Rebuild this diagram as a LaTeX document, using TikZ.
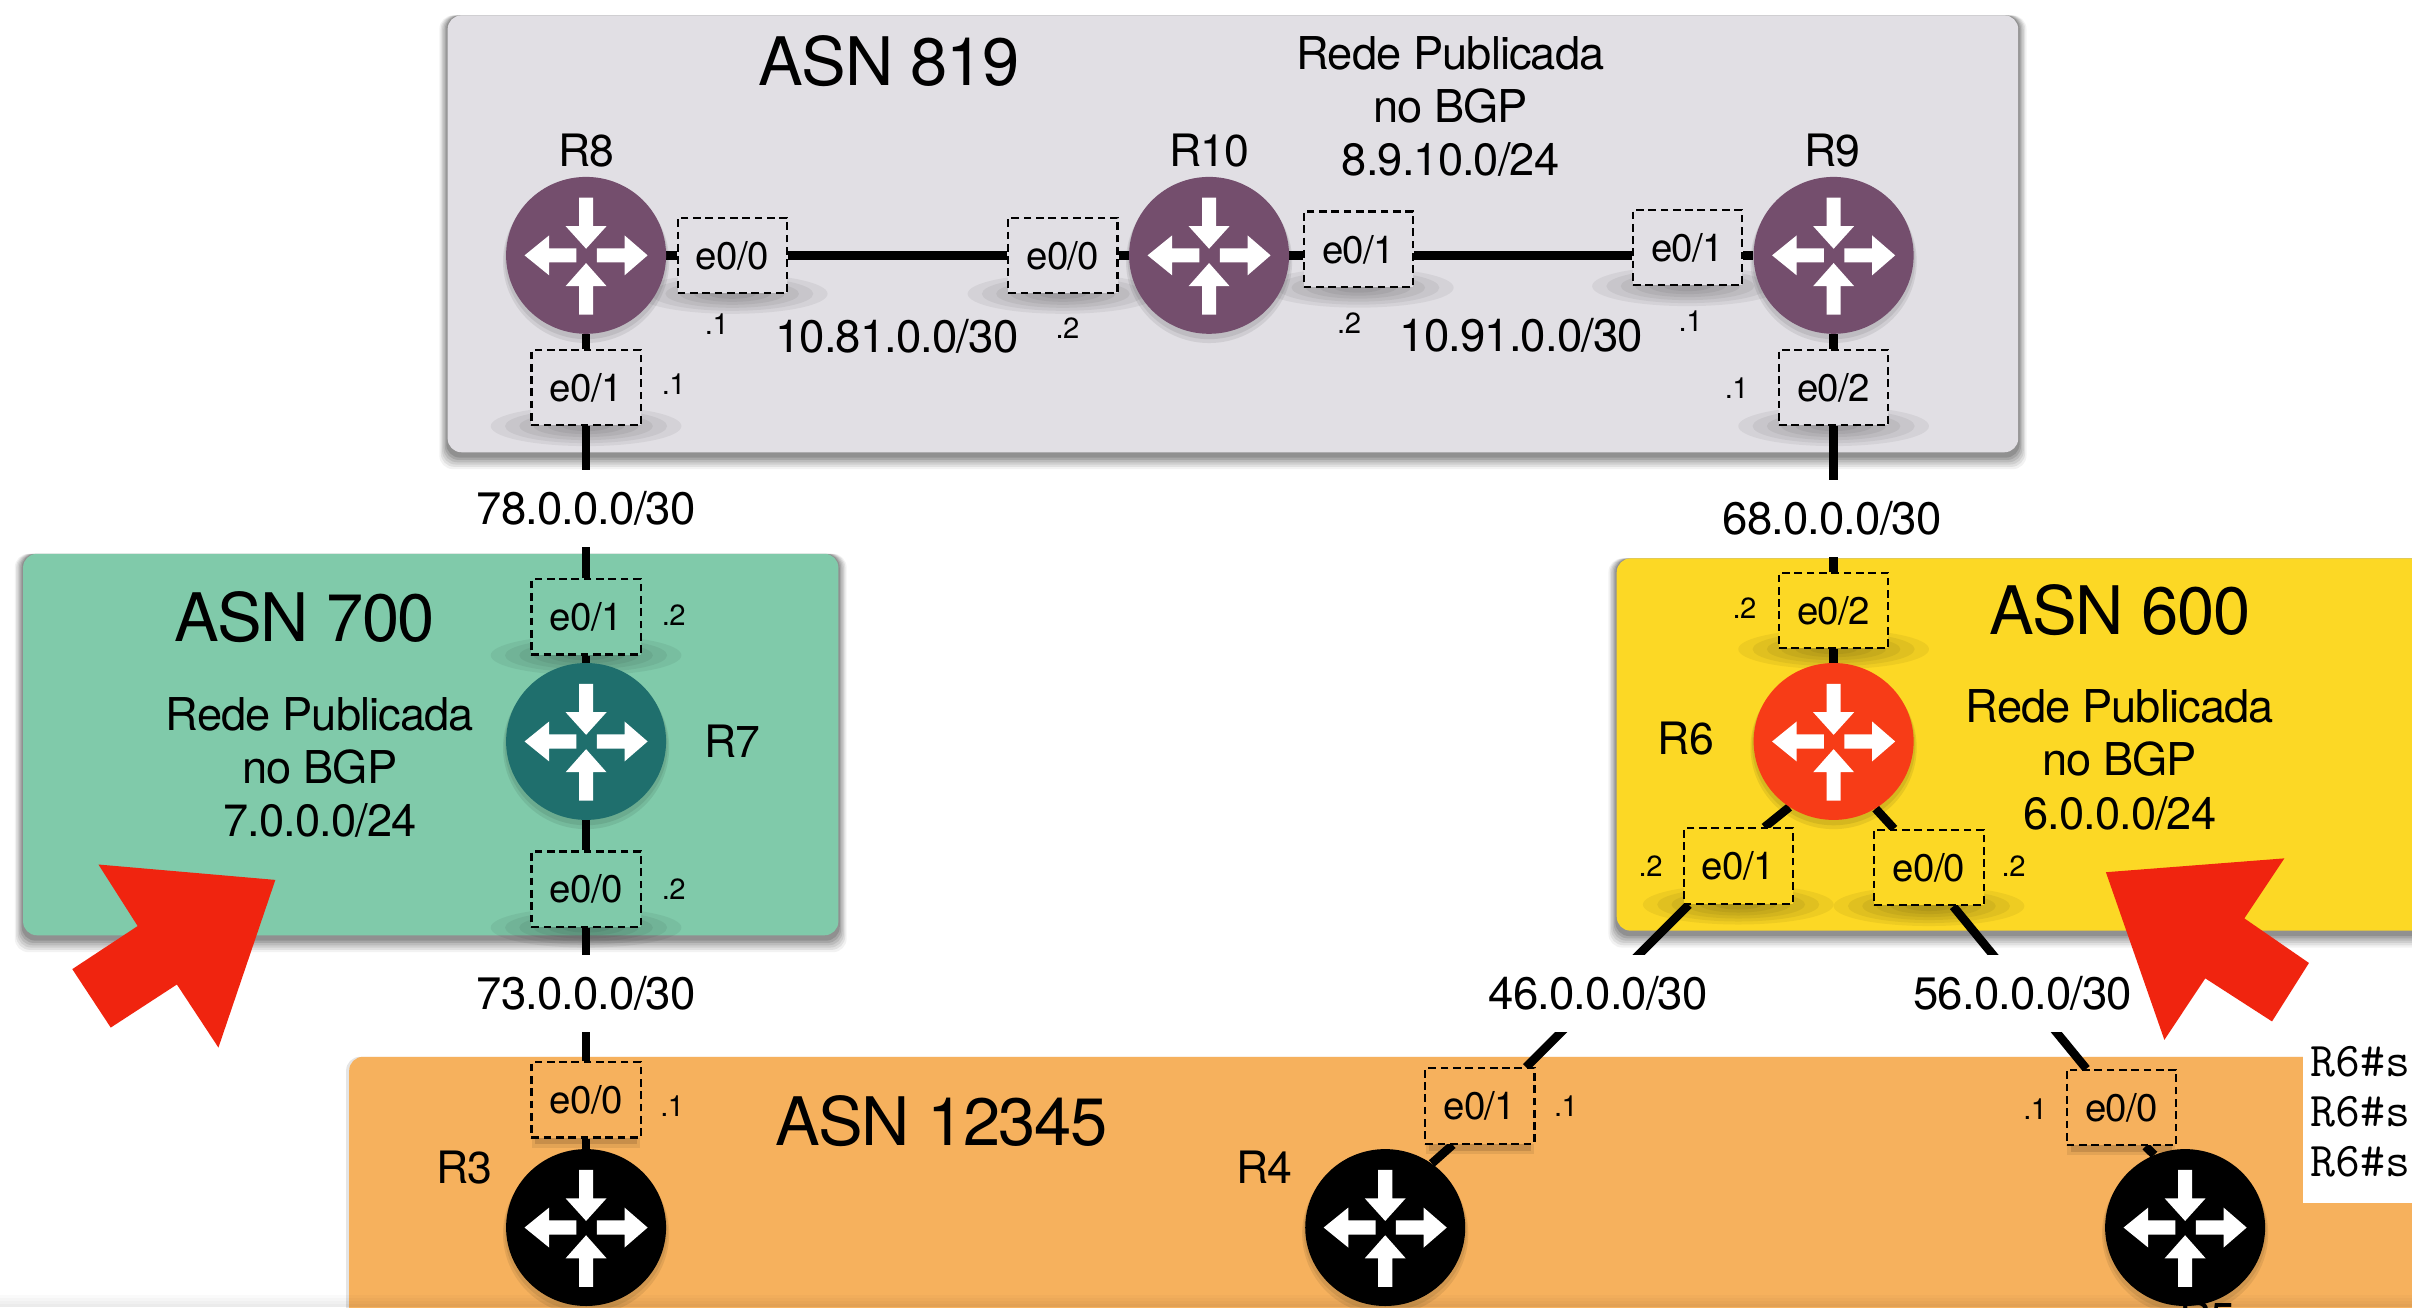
\documentclass[tikz,border=0pt]{standalone}
\usepackage{fontspec}
\setmainfont{TeX Gyre Heros}[LetterSpace=-2]
\usetikzlibrary{shapes.geometric}
\definecolor{areagray}{HTML}{E1DFE4}
\definecolor{areagreen}{HTML}{80CAAA}
\definecolor{areayellow}{HTML}{FCD825}
\definecolor{areaorange}{HTML}{F6B15D}
\definecolor{rpurple}{HTML}{744E6D}
\definecolor{rteal}{HTML}{1F6F6D}
\definecolor{rred}{HTML}{F73C17}
\definecolor{bigred}{HTML}{F0240F}
\pgfdeclarelayer{areas}\pgfdeclarelayer{glows}\pgfdeclarelayer{conns}
\pgfsetlayers{areas,glows,conns,main}
\newcommand{\softbox}[4]{% x1 y1 x2 y2: soft shadow below a rounded box
  \foreach \s/\o in {9/.05,7.5/.07,6/.08,4.5/.09,3/.11,1.5/.13}
    \fill[black,opacity=\o,rounded corners=9pt] (#1-\s*.6,#2) rectangle (#3+\s*.6,#4+2+\s);}
\newcommand{\softglow}[3]{% x y rx
  \foreach \s in {1,.85,.7,.55,.4,.25}
    \fill[black,opacity=.055] (#1,#2) ellipse[x radius=#3*\s,y radius=13*\s];}
\tikzset{
  x=1pt,y=-1pt,
  areabox/.style={rounded corners=9pt},
  router/.style={ellipse,inner sep=0pt,minimum width=104pt,minimum height=102pt,
    draw=none},
  port/.style={rectangle,draw=black,line width=1.4pt,dash pattern=on 5pt off 3pt,
    minimum width=71pt,minimum height=49pt,inner sep=0pt,
    font=\fontsize{25}{25}\selectfont,text height=18pt,text depth=0pt},
  net/.style={fill=white,minimum width=163pt,minimum height=50pt,inner sep=0pt,
    font=\fontsize{29.6}{29.6}\selectfont,text height=20.5pt,text depth=0pt},
  netplain/.style={inner sep=0pt,font=\fontsize{29.6}{29.6}\selectfont,text height=20.5pt,text depth=0pt},
  hostip/.style={inner sep=0pt,font=\fontsize{19}{19}\selectfont,text height=13.5pt,text depth=0pt},
  rname/.style={inner sep=0pt,font=\fontsize{29}{29}\selectfont,text height=20.5pt,text depth=0pt},
  asn/.style={inner sep=0pt,font=\fontsize{43.5}{43.5}\selectfont,text height=31.5pt,text depth=0pt},
  pub/.style={inner sep=0pt,align=center,font=\fontsize{29.4}{34.5}\selectfont},
  link/.style={line width=5.6pt,black},
  bigarrow/.style={fill=bigred,draw=none},
  ricon/.pic={
    \fill[white] (-4.6,-37.5) -- (4.6,-37.5) -- (4.6,-19) -- (13.3,-19) -- (0,-4.3) -- (-13.3,-19) -- (-4.6,-19) -- cycle;
    \fill[white] (-4.6,38.5) -- (4.6,38.5) -- (4.6,20) -- (13.3,20) -- (0,5) -- (-13.3,20) -- (-4.6,20) -- cycle;
    \fill[white] (-6.3,-4.6) -- (-6.3,4.6) -- (-24,4.6) -- (-24,13) -- (-40,0) -- (-24,-13) -- (-24,-4.6) -- cycle;
    \fill[white] (7,-4.6) -- (7,4.6) -- (25,4.6) -- (25,13) -- (40,0) -- (25,-13) -- (25,-4.6) -- cycle;
  },
}
\begin{document}
\begin{tikzpicture}
\useasboundingbox (0,0) rectangle (1568,849.7);

\begin{pgfonlayer}{areas}
  \fill[white] (0,0) rectangle (1568,849.7);
  \softbox{291}{10}{1312}{294}
  \fill[areagray,areabox] (291,10) rectangle (1312,294);
  \softbox{15}{360}{545}{608}
  \fill[areagreen,areabox] (15,360) rectangle (545,608);
  \softbox{1051}{363}{1600}{605}
  \fill[areayellow,areabox] (1051,363) rectangle (1600,605);
  \fill[black,opacity=.1,areabox] (225,687) rectangle (1600,900);
  \fill[areaorange,areabox] (227,687) rectangle (1600,900);
\end{pgfonlayer}

\begin{pgfonlayer}{glows}
  \foreach \x/\y in {476/191,691/191,883/187,1097/186,381/277,1192/277,381/426,381/603,1192/422,1130/588,1254/589}
    {\softglow{\x}{\y}{62}}
  \foreach \x/\y in {381/741,962/745,1379/746}
    {\fill[black,opacity=.12] (\x-33,\y-4) rectangle (\x+33,\y+3);
     \fill[black,opacity=.08] (\x-35,\y-4) rectangle (\x+35,\y+5);}
  \foreach \x/\y in {381/166,786/166,1192/166,381/482,1192/482,381/798,900.5/798,1420.5/798}
    {\fill[black,opacity=.08] (\x,\y+4) ellipse[x radius=54,y radius=53];
     \fill[black,opacity=.08] (\x,\y+2.5) ellipse[x radius=53,y radius=52];}
\end{pgfonlayer}

% routers
\node[router,fill=rpurple] (r8) at (381,166) {};
\node[router,fill=rpurple] (r10) at (786,166) {};
\node[router,fill=rpurple] (r9) at (1192,166) {};
\node[router,fill=rteal] (r7) at (381,482) {};
\node[router,fill=rred] (r6) at (1192,482) {};
\node[router,fill=black] (r3) at (381,798) {};
\node[router,fill=black] (r4) at (900.5,798) {};
\node[router,fill=black] (r5) at (1420.5,798) {};
\foreach \n in {r8,r10,r9,r7,r6,r3,r4,r5} {\path (\n) pic {ricon};}

% ports
\node[port,fill=areagray] (p8a) at (476,166) {e0/0};
\node[port,fill=areagray] (p10a) at (691,166) {e0/0};
\node[port,fill=areagray] (p10b) at (883,162) {e0/1};
\node[port,fill=areagray] (p9b) at (1097,161) {e0/1};
\node[port,fill=areagray] (p8b) at (381,252) {e0/1};
\node[port,fill=areagray] (p9c) at (1192,252) {e0/2};
\node[port,fill=areagreen] (p7b) at (381,401) {e0/1};
\node[port,fill=areagreen] (p7a) at (381,578) {e0/0};
\node[port,fill=areayellow] (p6c) at (1192,397) {e0/2};
\node[port,fill=areayellow] (p6b) at (1130,563) {e0/1};
\node[port,fill=areayellow] (p6a) at (1254,564) {e0/0};
\node[port,fill=areaorange] (p3a) at (381,715) {e0/0};
\node[port,fill=areaorange] (p4b) at (962,719) {e0/1};
\node[port,fill=areaorange] (p5a) at (1379,720) {e0/0};

% connectors
\begin{pgfonlayer}{conns}
  \draw[link] (r8) -- (p8a);
  \draw[link] (p8a) -- (p10a);
  \draw[link] (p10a) -- (r10);
  \draw[link] (r10) -- (p10b.west |- r10);
  \draw[link] (p10b.east |- r10) -- (p9b.west |- r9);
  \draw[link] (p9b.east |- r9) -- (r9);
  \draw[link] (r8) -- (p8b);
  \draw[link] (r9) -- (p9c);
  \draw[link] (p8b) -- (p7b);
  \draw[link] (p9c) -- (p6c);
  \draw[link] (p7b) -- (r7);
  \draw[link] (r7) -- (p7a);
  \draw[link] (p7a) -- (p3a);
  \draw[link] (p3a) -- (r3);
  \draw[link] (p6c) -- (r6);
  \draw[link] (r6.236.6) -- (p6b.56);
  \draw[link] (r6.-58.8) -- (p6a.132.5);
  \draw[link] (p6b.218) -- (p4b.40.6);
  \draw[link] (p6a.-58) -- (p5a.132.5);
  \draw[link] (p4b.235) -- (r4.54);
  \draw[link] (p5a.-58.5) -- (r5.113);
\end{pgfonlayer}

% network labels (white ground interrupts the links)
\node[net] (n78) at (381,330.5) {78.0.0.0/30};
\node[net] (n68) at (1191,337) {68.0.0.0/30};
\node[net] (n73) at (381,646) {73.0.0.0/30};
\node[net] (n46) at (1039,646) {46.0.0.0/30};
\node[net] (n56) at (1315,646) {56.0.0.0/30};
\node[netplain] (n1081) at (583,219) {10.81.0.0/30};
\node[netplain] (n1091) at (989,218) {10.91.0.0/30};

% host addresses
\node[hostip] (h1) at (466,211) {.1};
\node[hostip] (h2) at (694,213) {.2};
\node[hostip] (h3) at (877,210) {.2};
\node[hostip] (h4) at (1099,209) {.1};
\node[hostip] (h5) at (438,250) {.1};
\node[hostip] (h6) at (1129,252) {.1};
\node[hostip] (h7) at (438,400) {.2};
\node[hostip] (h8) at (438,578) {.2};
\node[hostip] (h9) at (1134,395) {.2};
\node[hostip] (h10) at (1073,563) {.2};
\node[hostip] (h11) at (1309,563) {.2};
\node[hostip] (h12) at (437,719) {.1};
\node[hostip] (h13) at (1018,719) {.1};
\node[hostip] (h14) at (1323,721) {.1};

% router names
\node[rname] (lr8) at (381,98) {R8};
\node[rname] (lr10) at (786,98) {R10};
\node[rname] (lr9) at (1191,98) {R9};
\node[rname] (lr7) at (476,482) {R7};
\node[rname] (lr6) at (1096,480) {R6};
\node[rname] (lr3) at (302,759) {R3};
\node[rname] (lr4) at (822,759) {R4};
\node[rname] (lr5) at (1435,857) {R5};

% AS names
\node[asn] (a819) at (578,40) {ASN 819};
\node[asn] (a700) at (198,401) {ASN 700};
\node[asn] (a600) at (1378,397) {ASN 600};
\node[asn] (a12345) at (612,729) {ASN 12345};

% published networks
\node[pub] (pub819) at (943,69) {Rede Publicada\\no BGP\\8.9.10.0/24};
\node[pub] (pub700) at (208,499) {Rede Publicada\\no BGP\\7.0.0.0/24};
\node[pub] (pub600) at (1378,494) {Rede Publicada\\no BGP\\6.0.0.0/24};

% terminal fragment
\node[fill=white,minimum width=80pt,minimum height=102pt,inner sep=0pt] (termbg) at (1537,731) {};
\node[anchor=base west,inner sep=0pt,font=\ttfamily\fontsize{31.5}{31.5}\selectfont] (t1) at (1502,699.6) {R6\#s};
\node[anchor=base west,inner sep=0pt,font=\ttfamily\fontsize{31.5}{31.5}\selectfont] (t2) at (1502,732.3) {R6\#s};
\node[anchor=base west,inner sep=0pt,font=\ttfamily\fontsize{31.5}{31.5}\selectfont] (t3) at (1502,765) {R6\#s};

% big red arrows
\fill[bigarrow] (179,572) -- (64,562) -- (89.5,602) -- (47,630) -- (72,668) -- (115,640) -- (142,681) -- cycle;
\fill[bigarrow] (1369,567) -- (1485,558) -- (1459,597) -- (1501,626) -- (1477,664) -- (1433.6,636) -- (1407,676) -- cycle;

% window shadow at the very bottom
\foreach \h in {2,4,6,8} {\fill[black,opacity=.018] (0,849.7-\h) rectangle (1568,849.7);}
\end{tikzpicture}
\end{document}
